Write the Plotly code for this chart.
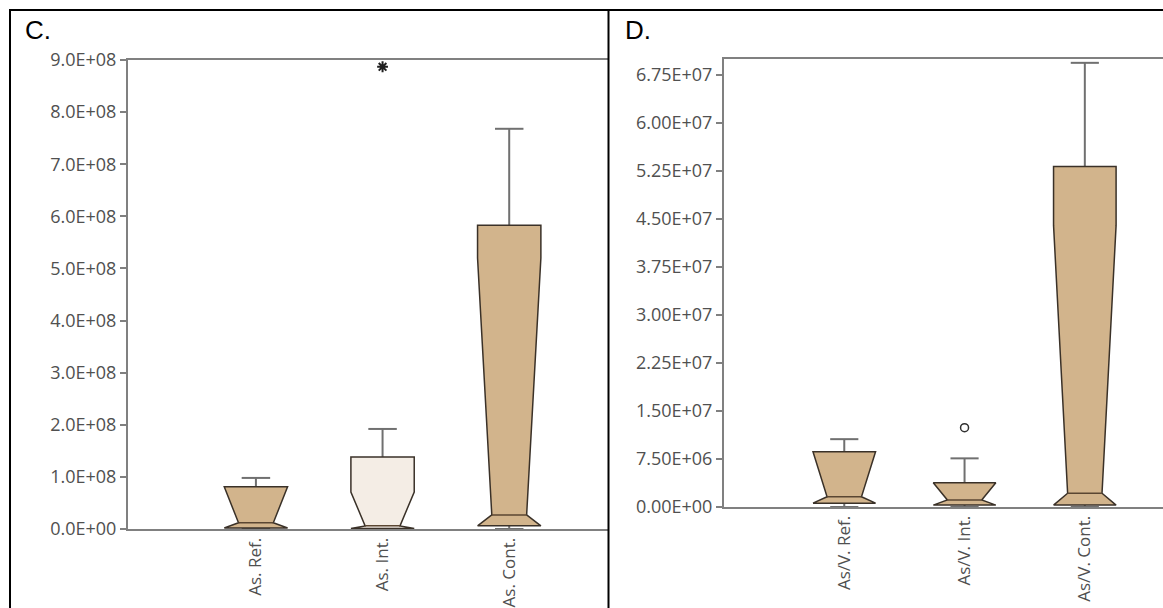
import plotly.graph_objects as go

W, H = 1163, 608

# ---------------- Panel C data ----------------
c_categories = ["As. Ref.", "As. Int.", "As. Cont."]
c_whisker_low = [0.0, 0.0, 0.0]
c_q1 = [0.02e8, 0.01e8, 0.06e8]
c_median = [0.12e8, 0.06e8, 0.27e8]
c_q3 = [0.81e8, 1.38e8, 5.83e8]
c_whisker_high = [0.98e8, 1.92e8, 7.68e8]
c_notch_high = [0.81e8, 0.71e8, 5.2e8]
c_outlier_cat = ["As. Int."]
c_outlier_val = [8.87e8]
c_tickvals = [0, 1e8, 2e8, 3e8, 4e8, 5e8, 6e8, 7e8, 8e8, 9e8]
c_ticktext = ["0.0E+00", "1.0E+08", "2.0E+08", "3.0E+08", "4.0E+08",
              "5.0E+08", "6.0E+08", "7.0E+08", "8.0E+08", "9.0E+08"]

# ---------------- Panel D data ----------------
d_categories = ["As/V. Ref.", "As/V. Int.", "As/V. Cont."]
d_whisker_low = [0.0, 0.0, 0.0]
d_q1 = [0.6e6, 0.3e6, 0.3e6]
d_median = [1.6e6, 1.1e6, 2.15e6]
d_q3 = [8.65e6, 3.8e6, 53.2e6]
d_whisker_high = [10.6e6, 7.6e6, 69.4e6]
d_notch_high = [8.65e6, 3.8e6, 44.0e6]
d_outlier_cat = ["As/V. Int."]
d_outlier_val = [12.4e6]
d_tickvals = [0, 7.5e6, 15e6, 22.5e6, 30e6, 37.5e6, 45e6, 52.5e6, 60e6, 67.5e6]
d_ticktext = ["0.00E+00", "7.50E+06", "1.50E+07", "2.25E+07", "3.00E+07",
              "3.75E+07", "4.50E+07", "5.25E+07", "6.00E+07", "6.75E+07"]

TAN = "#D2B48C"
LIGHT = "#F4EDE5"
OUTLINE = "#3A3128"
WHISK = "#707070"
AXIS = "#808080"
TXT = "#505050"
FONT = "Open Sans"

fig = go.Figure()


def add_panel(cats, wlo, q1, med, q3, whi, nhi, fills, xa, ya, halfw):
    waist = halfw * 0.55
    cap = halfw * 0.45
    for i in range(len(cats)):
        c = i
        # whiskers
        fig.add_trace(go.Scatter(
            x=[c, c, None, c - cap, c + cap, None, c, c, None, c - cap, c + cap],
            y=[q3[i], whi[i], None, whi[i], whi[i], None, q1[i], wlo[i], None, wlo[i], wlo[i]],
            mode="lines", line=dict(color=WHISK, width=2),
            xaxis=xa, yaxis=ya, hoverinfo="skip"))
        nh = min(nhi[i], q3[i])
        xs = [c - halfw, c - waist, c - halfw, c - halfw, c + halfw, c + halfw,
              c + waist, c + halfw, c - halfw]
        ys = [q1[i], med[i], nh, q3[i], q3[i], nh, med[i], q1[i], q1[i]]
        fig.add_trace(go.Scatter(
            x=xs, y=ys, mode="lines", fill="toself", fillcolor=fills[i],
            line=dict(color=OUTLINE, width=1.5), xaxis=xa, yaxis=ya,
            hoverinfo="skip"))
        fig.add_trace(go.Scatter(
            x=[c - waist, c + waist], y=[med[i], med[i]], mode="lines",
            line=dict(color="#5A4632", width=1.5), xaxis=xa, yaxis=ya,
            hoverinfo="skip"))


add_panel(c_categories, c_whisker_low, c_q1, c_median, c_q3, c_whisker_high,
          c_notch_high, [TAN, LIGHT, TAN], "x", "y", 0.25)
add_panel(d_categories, d_whisker_low, d_q1, d_median, d_q3, d_whisker_high,
          d_notch_high, [TAN, TAN, TAN], "x2", "y2", 0.26)

fig.add_trace(go.Scatter(
    x=[c_categories.index(k) for k in c_outlier_cat], y=c_outlier_val,
    mode="markers", marker=dict(symbol="asterisk-open", size=9, color="#202020",
                                line=dict(width=2, color="#202020")),
    xaxis="x", yaxis="y", hoverinfo="skip"))
fig.add_trace(go.Scatter(
    x=[d_categories.index(k) for k in d_outlier_cat], y=d_outlier_val,
    mode="markers", marker=dict(symbol="circle-open", size=8, color="#303030",
                                line=dict(width=1.5, color="#303030")),
    xaxis="x2", yaxis="y2", hoverinfo="skip"))

common_x = dict(showline=True, linecolor=AXIS, linewidth=2, mirror=True,
                ticks="", showgrid=False, zeroline=False, tickangle=-90,
                automargin=False,
                tickfont=dict(family=FONT, size=17, color=TXT), fixedrange=True)
common_y = dict(showline=True, linecolor=AXIS, linewidth=2, ticks="outside",
                ticklen=6, tickwidth=1.5, tickcolor=AXIS, showgrid=False,
                automargin=False,
                zeroline=False, tickfont=dict(family=FONT, size=18, color=TXT))

fig.update_layout(
    width=W, height=H, margin=dict(l=0, r=0, t=0, b=0, autoexpand=False),
    paper_bgcolor="white", plot_bgcolor="white", showlegend=False,
    xaxis=dict(domain=[128 / W, 608 / W], range=[-1.01, 2.78],
               tickvals=list(range(len(c_categories))), ticktext=c_categories,
               anchor="y", **common_x),
    yaxis=dict(domain=[(H - 529) / H, (H - 60) / H], range=[0, 9e8],
               tickvals=c_tickvals, ticktext=c_ticktext, anchor="x", **common_y),
    xaxis2=dict(domain=[724 / W, 1.0], range=[-1.0, 2.65],
                tickvals=list(range(len(d_categories))), ticktext=d_categories,
                anchor="y2", **common_x),
    yaxis2=dict(domain=[(H - 507) / H, (H - 59) / H], range=[0, 7.0e7],
                tickvals=d_tickvals, ticktext=d_ticktext, anchor="x2", **common_y),
    annotations=[
        dict(text="C.", x=23 / W, y=1 - 13 / H, xref="paper", yref="paper",
             xanchor="left", yanchor="top", showarrow=False,
             font=dict(family="Liberation Sans", size=26, color="black")),
        dict(text="D.", x=623 / W, y=1 - 13 / H, xref="paper", yref="paper",
             xanchor="left", yanchor="top", showarrow=False,
             font=dict(family="Liberation Sans", size=26, color="black")),
    ],
    shapes=[
        dict(type="line", xref="paper", yref="paper", x0=9 / W, x1=1, y0=1 - 10 / H,
             y1=1 - 10 / H, line=dict(color="black", width=2)),
        dict(type="line", xref="paper", yref="paper", x0=10 / W, x1=10 / W, y0=0,
             y1=1 - 10 / H, line=dict(color="black", width=2)),
        dict(type="line", xref="paper", yref="paper", x0=608.5 / W, x1=608.5 / W, y0=0,
             y1=1 - 10 / H, line=dict(color="black", width=2)),
    ],
)

fig.write_html("out.html")
